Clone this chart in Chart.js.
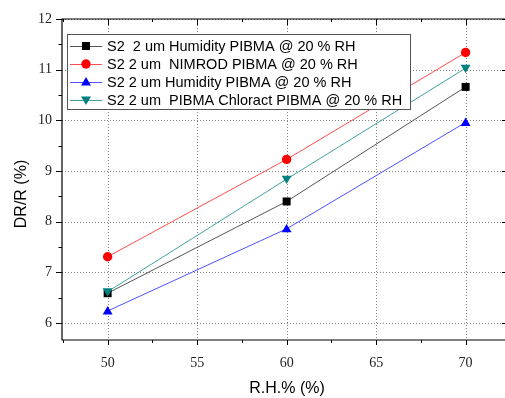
<!DOCTYPE html>
<html>
<head>
<meta charset="utf-8">
<script src="https://cdn.jsdelivr.net/npm/chart.js@4"></script>
<style>
  body { margin: 0; background: #fff; overflow: hidden; }
  #wrap { width: 505px; height: 398px; }
</style>
</head>
<body>
<div id="wrap"><canvas id="chart" width="505" height="398"></canvas></div>
<script>
// data
const rh = [50, 60, 70];
const humidityA = [6.59, 8.40, 10.66];
const nimrod = [7.31, 9.23, 11.34];
const humidityB = [6.24, 7.86, 9.96];
const chloract = [6.62, 8.84, 11.03];
const seriesLabels = [
    'S2  2 um Humidity PIBMA @ 20 % RH',
    'S2 2 um  NIMROD PIBMA @ 20 % RH',
    'S2 2 um Humidity PIBMA @ 20 % RH',
    'S2 2 um  PIBMA Chloract PIBMA @ 20 % RH'
];
const xTicks = [50, 55, 60, 65, 70];
const yTicks = [6, 7, 8, 9, 10, 11, 12];

function pts(ys) {
    return rh.map((x, i) => ({ x: x, y: ys[i] }));
}

// small helper to draw one marker
function drawMarker(ctx, style, color, x, y, r) {
    ctx.save();
    ctx.fillStyle = color;
    ctx.beginPath();
    if (style === 'rect') {
        ctx.rect(x - r * 0.85, y - r * 0.85, r * 1.7, r * 1.7);
    } else if (style === 'circle') {
        ctx.arc(x, y, r, 0, Math.PI * 2);
    } else if (style === 'tri') {
        ctx.moveTo(x, y - r * 1.05);
        ctx.lineTo(x + r * 1.05, y + r * 0.75);
        ctx.lineTo(x - r * 1.05, y + r * 0.75);
        ctx.closePath();
    } else {
        ctx.moveTo(x, y + r * 1.05);
        ctx.lineTo(x + r * 1.05, y - r * 0.75);
        ctx.lineTo(x - r * 1.05, y - r * 0.75);
        ctx.closePath();
    }
    ctx.fill();
    ctx.restore();
}

const styles = [
    { line: '#555555', mark: '#000000', shape: 'rect' },
    { line: '#ff4d4d', mark: '#ff0000', shape: 'circle' },
    { line: '#5050ff', mark: '#0000ff', shape: 'tri' },
    { line: '#40a0a0', mark: '#008080', shape: 'triDown' }
];

const seriesData = [humidityA, nimrod, humidityB, chloract];

const framePlugin = {
    id: 'frame',
    beforeDatasetsDraw(chart) {
        // dotted grid at the major ticks
        const ctx = chart.ctx;
        const a = chart.chartArea;
        const xs = chart.scales.x;
        const ys = chart.scales.y;
        ctx.save();
        ctx.strokeStyle = '#808080';
        ctx.lineWidth = 1;
        ctx.setLineDash([1, 2]);
        ctx.beginPath();
        xTicks.forEach(v => {
            const x = Math.round(xs.getPixelForValue(v)) + 0.5;
            ctx.moveTo(x, a.top); ctx.lineTo(x, a.bottom);
        });
        yTicks.forEach(v => {
            const y = Math.round(ys.getPixelForValue(v)) + 0.5;
            ctx.moveTo(a.left, y); ctx.lineTo(a.right, y);
        });
        ctx.stroke();
        ctx.restore();
    },
    afterDatasetsDraw(chart) {
        const ctx = chart.ctx;
        const a = chart.chartArea;
        const xs = chart.scales.x;
        const ys = chart.scales.y;
        ctx.save();

        // markers on top of lines
        seriesData.forEach((vals, i) => {
            rh.forEach((x, j) => {
                drawMarker(ctx, styles[i].shape, styles[i].mark,
                    xs.getPixelForValue(x), ys.getPixelForValue(vals[j]), 4.7);
            });
        });

        // frame (right edge falls outside the picture)
        ctx.strokeStyle = '#000';
        ctx.lineWidth = 1.2;
        ctx.beginPath();
        ctx.moveTo(a.right + 2, a.top); ctx.lineTo(a.left, a.top);
        ctx.lineTo(a.left, a.bottom); ctx.lineTo(a.right + 2, a.bottom);
        ctx.stroke();

        // ticks
        ctx.lineWidth = 1;
        ctx.beginPath();
        yTicks.forEach((v, i) => {
            const y = Math.round(ys.getPixelForValue(v)) + 0.5;
            ctx.moveTo(a.left - 6, y); ctx.lineTo(a.left, y);
            ctx.moveTo(a.right - 3, y); ctx.lineTo(a.right, y);
            if (i < yTicks.length - 1) {
                const ym = Math.round(ys.getPixelForValue(v + 0.5)) + 0.5;
                ctx.moveTo(a.left - 3.5, ym); ctx.lineTo(a.left, ym);
            }
        });
        const yLow = Math.round(ys.getPixelForValue(yTicks[0] - 0.5)) + 0.5;
        if (yLow < a.bottom) { ctx.moveTo(a.left - 3.5, yLow); ctx.lineTo(a.left, yLow); }
        xTicks.forEach((v, i) => {
            const x = Math.round(xs.getPixelForValue(v)) + 0.5;
            ctx.moveTo(x, a.bottom); ctx.lineTo(x, a.bottom + 5);
            ctx.moveTo(x, a.top); ctx.lineTo(x, a.top + 6);
            [v - 2.5, v + 2.5].forEach(m => {
                if (m > xs.min && m < xs.max) {
                    const xm = Math.round(xs.getPixelForValue(m)) + 0.5;
                    ctx.moveTo(xm, a.bottom); ctx.lineTo(xm, a.bottom + 3);
                    ctx.moveTo(xm, a.top); ctx.lineTo(xm, a.top + 3);
                }
            });
        });
        ctx.stroke();

        // axis titles
        ctx.fillStyle = '#000';
        ctx.font = '16px "Liberation Sans", Arial, sans-serif';
        ctx.textAlign = 'center';
        ctx.textBaseline = 'middle';
        ctx.fillText('R.H.% (%)', 287, 389);
        ctx.save();
        ctx.translate(22, 194);
        ctx.rotate(-Math.PI / 2);
        ctx.fillText('DR/R (%)', 0, 0);
        ctx.restore();

        // legend box
        const lx = 67, ly = 34, lw = 343, lh = 75;
        ctx.fillStyle = '#fff';
        ctx.fillRect(lx, ly, lw, lh);
        ctx.strokeStyle = '#555';
        ctx.lineWidth = 1;
        ctx.strokeRect(lx + 0.5, ly + 0.5, lw, lh);
        ctx.font = '14.5px "Liberation Sans", Arial, sans-serif';
        ctx.textAlign = 'left';
        seriesLabels.forEach((t, i) => {
            const cy = 46 + i * 18;
            ctx.strokeStyle = styles[i].line;
            ctx.beginPath();
            ctx.moveTo(70, cy + 0.5); ctx.lineTo(102, cy + 0.5);
            ctx.stroke();
            drawMarker(ctx, styles[i].shape, styles[i].mark, 86, cy, 4.7);
            ctx.fillStyle = '#000';
            ctx.fillText(t, 107, cy + 1);
        });
        ctx.restore();
    }
};

new Chart(document.getElementById('chart'), {
    type: 'scatter',
    data: {
        datasets: seriesData.map((vals, i) => ({
            label: seriesLabels[i],
            data: pts(vals),
            showLine: true,
            borderColor: styles[i].line,
            borderWidth: 1,
            pointRadius: 0,
            pointHoverRadius: 0,
            fill: false
        }))
    },
    options: {
        responsive: false,
        animation: false,
        layout: { padding: { top: 19, right: 0, left: 0, bottom: 0 } },
        plugins: { legend: { display: false }, tooltip: { enabled: false } },
        scales: {
            x: {
                type: 'linear',
                min: 47.45,
                max: 72.2,
                afterBuildTicks: s => { s.ticks = xTicks.map(v => ({ value: v })); },
                afterFit: s => { s.height = 58; },
                grid: { display: false, drawTicks: false },
                border: { display: false },
                ticks: {
                    padding: 15,
                    color: '#222',
                    font: { family: '"Liberation Serif", "Times New Roman", serif', size: 14 }
                }
            },
            y: {
                type: 'linear',
                min: 5.667,
                max: 12,
                afterBuildTicks: s => { s.ticks = yTicks.map(v => ({ value: v })); },
                afterFit: s => { s.width = 62; },
                grid: { display: false, drawTicks: false },
                border: { display: false },
                ticks: {
                    padding: 10,
                    color: '#222',
                    font: { family: '"Liberation Serif", "Times New Roman", serif', size: 14 }
                }
            }
        }
    },
    plugins: [framePlugin]
});
</script>
</body>
</html>
